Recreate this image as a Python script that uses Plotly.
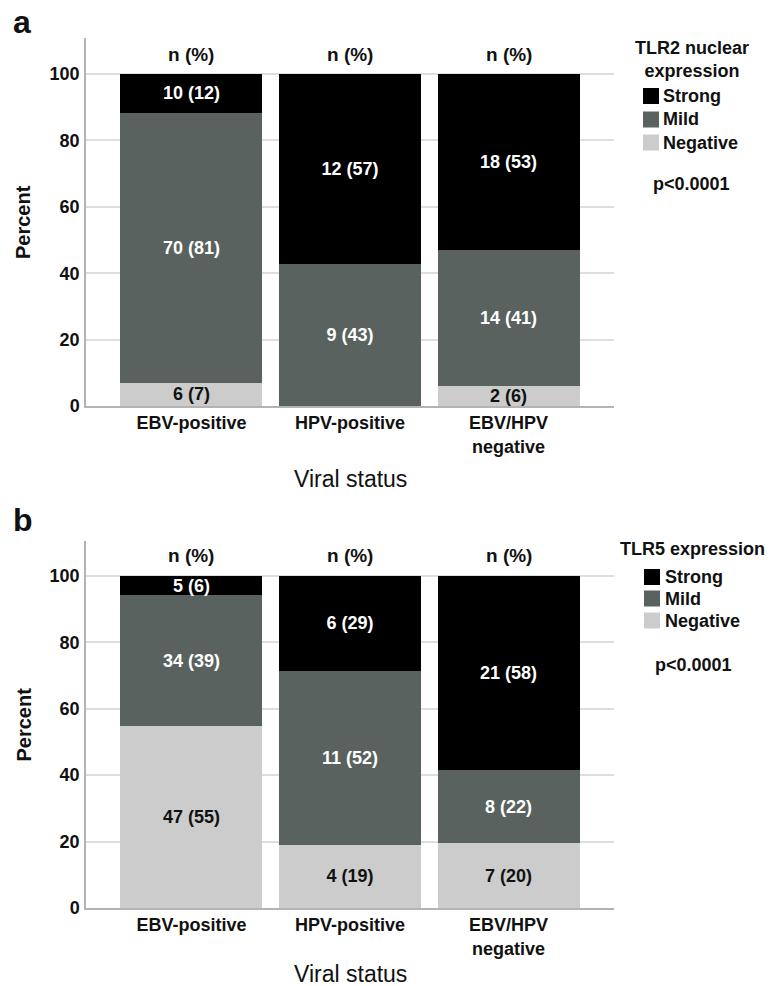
import plotly.graph_objects as go

# ---------------- data ----------------
categories = ["EBV-positive", "HPV-positive", "EBV/HPV negative"]
tick_labels = ["EBV-positive", "HPV-positive", "EBV/HPV<br>negative"]
levels = ["Negative", "Mild", "Strong"]
header_label = "n (%)"
p_value_label = "p<0.0001"

# Panel a: TLR2 nuclear expression (counts and reported %)
tlr2_negative_n = [6, 0, 2]
tlr2_mild_n = [70, 9, 14]
tlr2_strong_n = [10, 12, 18]
tlr2_negative_pct = [7, 0, 6]
tlr2_mild_pct = [81, 43, 41]
tlr2_strong_pct = [12, 57, 53]

# Panel b: TLR5 expression (counts and reported %)
tlr5_negative_n = [47, 4, 7]
tlr5_mild_n = [34, 11, 8]
tlr5_strong_n = [5, 6, 21]
tlr5_negative_pct = [55, 19, 20]
tlr5_mild_pct = [39, 52, 22]
tlr5_strong_pct = [6, 29, 58]

panel_letters = ["a", "b"]
legend_titles = ["TLR2 nuclear<br>expression", "TLR5 expression"]

# ---------------- style ----------------
FONT = "Liberation Sans, Arial, Helvetica, sans-serif"
COLORS = {"Strong": "#000000", "Mild": "#59625e", "Negative": "#cccccc"}
TEXTCOL = {"Strong": "#ffffff", "Mild": "#ffffff", "Negative": "#111111"}

W, H = 771, 986
PL, PR, PT, PB = 86, 614, 38, 908   # plot area pixel bounds


def xp(px):
    return (px - PL) / (PR - PL)


def yp(py):
    return (PB - py) / (PB - PT)


panels = [
    dict(n={"Negative": tlr2_negative_n, "Mild": tlr2_mild_n, "Strong": tlr2_strong_n},
         pct={"Negative": tlr2_negative_pct, "Mild": tlr2_mild_pct, "Strong": tlr2_strong_pct},
         xa="x", ya="y"),
    dict(n={"Negative": tlr5_negative_n, "Mild": tlr5_mild_n, "Strong": tlr5_strong_n},
         pct={"Negative": tlr5_negative_pct, "Mild": tlr5_mild_pct, "Strong": tlr5_strong_pct},
         xa="x2", ya="y2"),
]

fig = go.Figure()
for p in panels:
    totals = [sum(p["n"][lv][i] for lv in levels) for i in range(len(categories))]
    for lv in levels:
        counts = p["n"][lv]
        heights = [c / t * 100 for c, t in zip(counts, totals)]
        labels = [f"{c} ({q})" if c > 0 else "" for c, q in zip(counts, p["pct"][lv])]
        fig.add_trace(go.Bar(
            x=categories, y=heights, name=lv, text=labels,
            textposition="inside", insidetextanchor="middle", textangle=0,
            constraintext="none",
            insidetextfont=dict(family=FONT, size=18, color=TEXTCOL[lv], weight="bold"),
            marker=dict(color=COLORS[lv], line=dict(width=0)),
            width=0.896, xaxis=p["xa"], yaxis=p["ya"], showlegend=False,
            hovertemplate="%{x}<br>" + lv + ": %{text}<extra></extra>",
        ))

axis_common = dict(showline=True, linecolor="#b3b3b3", linewidth=1.5, ticks="",
                   tickfont=dict(family=FONT, size=18, color="#111111", weight="bold"),
                   zeroline=False, fixedrange=True)

fig.update_layout(
    width=W, height=H,
    margin=dict(l=PL, r=W - PR, t=PT, b=H - PB, autoexpand=False),
    paper_bgcolor="white", plot_bgcolor="white",
    barmode="stack", bargap=0.1,
    font=dict(family=FONT, color="#111111"),
    xaxis=dict(domain=[0, 1], anchor="y", type="category", range=[-0.665, 2.665],
               tickvals=categories, ticktext=tick_labels, showgrid=False,
               ticklabelstandoff=0, **axis_common),
    xaxis2=dict(domain=[0, 1], anchor="y2", type="category", range=[-0.665, 2.665],
                tickvals=categories, ticktext=tick_labels, showgrid=False,
                ticklabelstandoff=0, **axis_common),
    yaxis=dict(domain=[yp(406), 1], anchor="x", range=[0, 110.84],
               tickvals=[0, 20, 40, 60, 80, 100], showgrid=True,
               gridcolor="#dedede", gridwidth=1.5, ticklabelstandoff=1, **axis_common),
    yaxis2=dict(domain=[0, yp(541)], anchor="x2", range=[0, 110.5],
                tickvals=[0, 20, 40, 60, 80, 100], showgrid=True,
                gridcolor="#dedede", gridwidth=1.5, ticklabelstandoff=1, **axis_common),
)

ann = []
shapes = []
bold = dict(family=FONT, color="#111111", weight="bold")


def note(x, y, text, font, xanchor="center", **kw):
    d = dict(x=xp(x), y=yp(y), xref="paper", yref="paper", text=text,
             showarrow=False, xanchor=xanchor, yanchor="middle", font=font)
    d.update(kw)
    return d


title_pos = [(692, 59), (692.5, 549)]
for k, p in enumerate(panels):
    # n (%) headers above bars (data coords)
    for c in categories:
        ann.append(dict(x=c, y=106, xref=p["xa"], yref=p["ya"], text=header_label,
                        showarrow=False, xanchor="center", yanchor="middle",
                        font=dict(size=19, **bold)))
    # panel letter
    ann.append(note(11, [22, 520][k], panel_letters[k], dict(size=32, **bold), xanchor="left"))
    # y-axis title
    ann.append(note(23, [222, 724.5][k], "Percent", dict(size=20, **bold), textangle=-90))
    # x-axis title
    ann.append(note(350, [478.7, 974][k], "Viral status",
                    dict(family=FONT, size=23, color="#111111")))
    # legend title
    tx, ty = title_pos[k]
    ann.append(note(tx, ty, legend_titles[k], dict(size=18, **bold)))
    # legend entries (top to bottom: Strong, Mild, Negative)
    sq_x0 = [643, 644][k]
    txt_x = [661, 663][k]
    centers = [[96, 119.5, 142.5], [577, 598.5, 620.5]][k]
    for lv, cy in zip(["Strong", "Mild", "Negative"], centers):
        shapes.append(dict(type="rect", xref="paper", yref="paper",
                           x0=xp(sq_x0), x1=xp(sq_x0 + 16), y0=yp(cy + 8), y1=yp(cy - 8),
                           fillcolor=COLORS[lv], line=dict(width=0)))
        ann.append(note(txt_x, cy, lv, dict(size=18, **bold), xanchor="left"))
    # p-value
    ann.append(note([691, 693][k], [184, 665][k], p_value_label, dict(size=18, **bold)))

fig.update_layout(annotations=ann, shapes=shapes)

fig.write_html("out.html", config={"displayModeBar": False},
               post_script="document.body.style.margin='0';document.body.style.overflow='hidden';")
